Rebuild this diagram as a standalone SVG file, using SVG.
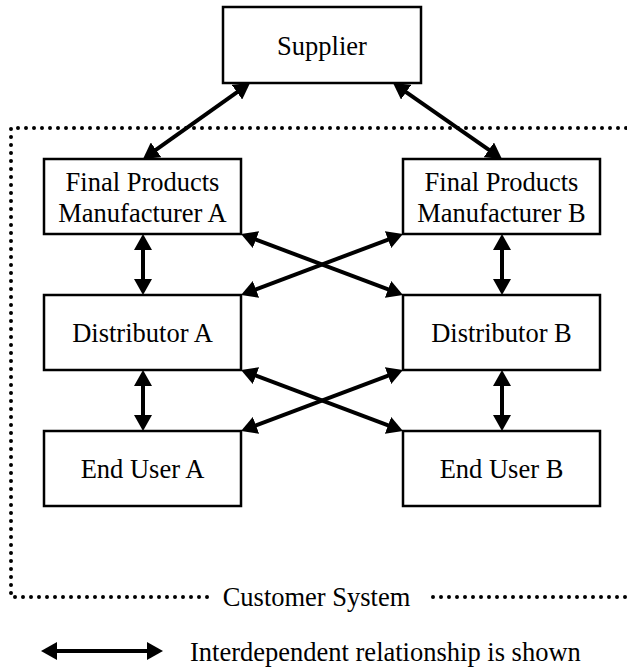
<svg xmlns="http://www.w3.org/2000/svg" width="627" height="667" viewBox="0 0 627 667">
<style>
.box{fill:#fff;stroke:#000;stroke-width:2.5}
.t{font-family:"Liberation Serif","Times New Roman",serif;font-size:26.5px;fill:#000;text-anchor:middle}
.c{stroke:#000;stroke-width:4;fill:none;marker-start:url(#ah);marker-end:url(#ah)}
.dot{stroke:#000;stroke-width:4;fill:none;stroke-dasharray:0 8;stroke-linecap:round}
</style>
<defs>
<marker id="ah" viewBox="0 0 16 18" markerWidth="16" markerHeight="18" refX="8" refY="9" markerUnits="userSpaceOnUse" orient="auto-start-reverse">
<path d="M0,0 L16,9 L0,18 z" fill="#000"/>
</marker>
</defs>
<g id="customer-system">
<path class="dot" d="M207,597 L11,597 L11,128 L627,128"/>
<path class="dot" d="M433,597 L627,597"/>
<text class="t" x="316.5" y="606">Customer System</text>
</g>
<g id="supplier"><rect class="box" x="223" y="7" width="198" height="76"/><text class="t" x="322" y="55">Supplier</text></g>
<g id="fpm-a"><rect class="box" x="44" y="159" width="197" height="75"/><text class="t" x="142.5" y="191">Final Products</text><text class="t" x="142.5" y="222">Manufacturer A</text></g>
<g id="fpm-b"><rect class="box" x="403" y="159" width="197" height="75"/><text class="t" x="501.5" y="191">Final Products</text><text class="t" x="501.5" y="222">Manufacturer B</text></g>
<g id="dist-a"><rect class="box" x="44" y="295" width="197" height="75"/><text class="t" x="142.5" y="342">Distributor A</text></g>
<g id="dist-b"><rect class="box" x="403" y="295" width="197" height="75"/><text class="t" x="501.5" y="342">Distributor B</text></g>
<g id="eu-a"><rect class="box" x="44" y="431" width="197" height="75"/><text class="t" x="142.5" y="478">End User A</text></g>
<g id="eu-b"><rect class="box" x="403" y="431" width="197" height="75"/><text class="t" x="501.5" y="478">End User B</text></g>
<g id="connectors">
<line class="c" x1="243.5" y1="87.6" x2="149.5" y2="154.4"/>
<line class="c" x1="399.6" y1="87.6" x2="495.4" y2="154.4"/>
<line class="c" x1="143" y1="242" x2="143" y2="287"/>
<line class="c" x1="502" y1="242" x2="502" y2="287"/>
<line class="c" x1="143" y1="378" x2="143" y2="423"/>
<line class="c" x1="502" y1="378" x2="502" y2="423"/>
<line class="c" x1="248.5" y1="236.8" x2="395.5" y2="292.2"/>
<line class="c" x1="395.5" y1="236.8" x2="248.5" y2="292.2"/>
<line class="c" x1="248.5" y1="372.8" x2="395.5" y2="428.2"/>
<line class="c" x1="395.5" y1="372.8" x2="248.5" y2="428.2"/>
</g>
<g id="legend">
<line class="c" x1="49" y1="651" x2="155" y2="651"/>
<text class="t" x="190" y="661" style="text-anchor:start">Interdependent relationship is shown</text>
</g>
</svg>
